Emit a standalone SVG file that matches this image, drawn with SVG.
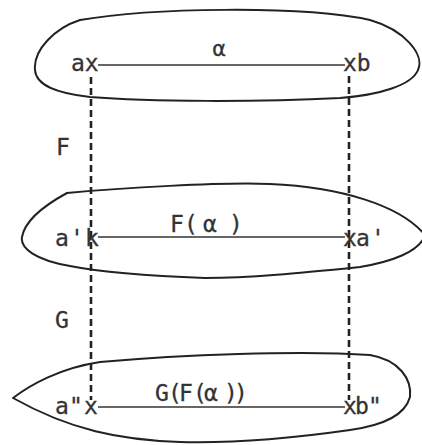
<svg xmlns="http://www.w3.org/2000/svg" width="422" height="445" viewBox="0 0 422 445">
<style>
.blob{fill:none;stroke:#222;stroke-width:2;stroke-linejoin:round}
.seg{fill:none;stroke:#333;stroke-width:1.6}
.dash{fill:none;stroke:#222;stroke-width:2.6;stroke-dasharray:7 4}
text{font-family:"DejaVu Sans Mono","Liberation Mono",monospace;font-size:23px;fill:#333;stroke:#333;stroke-width:0.3}
.small{font-size:22px}
</style>
<rect width="422" height="445" fill="#fff"/>
<g id="connectors">
<line class="dash" x1="91" y1="77" x2="91" y2="400"/>
<line class="dash" x1="349" y1="76" x2="349" y2="400"/>
<line class="seg" x1="98" y1="65" x2="345" y2="65"/>
<line class="seg" x1="98" y1="237" x2="345" y2="237"/>
<line class="seg" x1="98" y1="407" x2="345" y2="407"/>
<text x="56" y="155">F</text>
<text x="55" y="328">G</text>
</g>
<g id="set-top">
<path class="blob" d="M 35 70 C 33 50, 55 28, 80 20 C 150 8, 300 5, 370 20 C 405 30, 425 55, 418 70 C 412 85, 380 95, 340 98 C 260 102, 150 102, 90 97 C 55 93, 36 85, 35 70 Z"/>
<text x="71" y="71">ax</text>
<text x="343" y="71">xb</text>
<text class="small" x="219" y="56" text-anchor="middle">α</text>
</g>
<g id="set-middle">
<path class="blob" d="M 67 193 C 120 188, 220 182, 270 184 C 340 187, 400 205, 425 235 C 420 252, 390 262, 360 267 C 300 273, 250 278, 205 278 C 150 276, 100 272, 70 266 C 35 260, 20 248, 22 237 C 25 220, 45 205, 67 193 Z"/>
<text x="55 70 85" y="246">a'k</text>
<text x="343 356 371" y="246">xa'</text>
<text x="170 184 203 229" y="232">F(α)</text>
</g>
<g id="set-bottom">
<path class="blob" d="M 13 398 C 30 385, 60 368, 100 362 C 180 355, 300 350, 370 355 C 400 360, 412 380, 410 397 C 405 415, 385 425, 350 430 C 280 440, 220 443, 180 442 C 120 440, 70 430, 13 398 Z"/>
<text x="55 69 84" y="414">a"x</text>
<text x="343 355 368" y="414">xb"</text>
<text x="155 168 179 193 204 224 234" y="401">G(F(α))</text>
</g>
</svg>
